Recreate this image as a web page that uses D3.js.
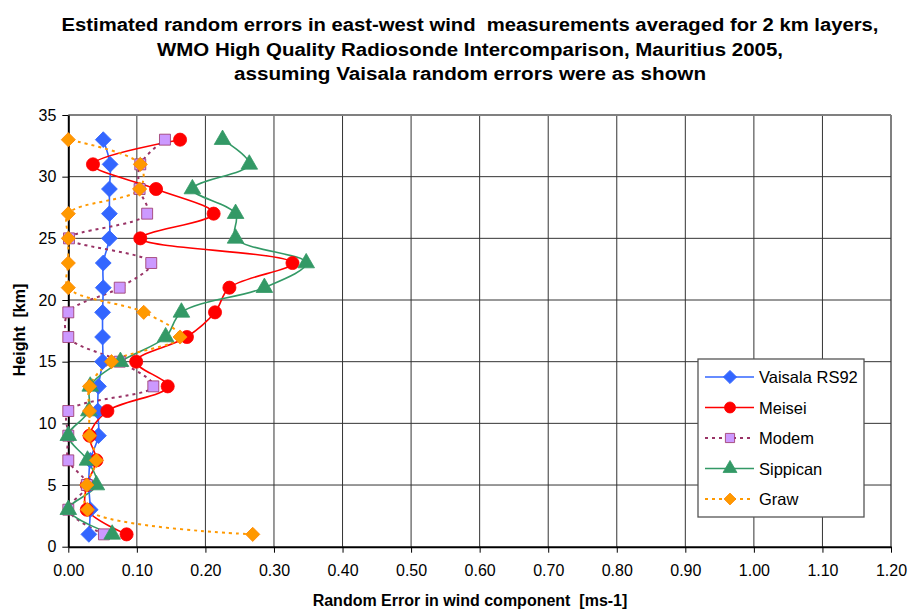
<!DOCTYPE html>
<html>
<head>
<meta charset="utf-8">
<script src="https://cdn.jsdelivr.net/npm/d3@7"></script>
<style>
  body { margin: 0; background: #fff; }
  text { font-family: "Liberation Sans", Arial, sans-serif; white-space: pre; }
</style>
</head>
<body>
<div id="chart"></div>
<script>
const WIDTH = 911;
const HEIGHT = 610;

// heights of 2 km layers (km)
const heights = [1, 3, 5, 7, 9, 11, 13, 15, 17, 19, 21, 23, 25, 27, 29, 31, 33];

const vaisala  = [0.030, 0.032, 0.030, 0.032, 0.044, 0.043, 0.044, 0.050, 0.050, 0.050, 0.051, 0.051, 0.060, 0.060, 0.060, 0.061, 0.051];
const meisei   = [0.085, 0.027, 0.027, 0.041, 0.031, 0.057, 0.145, 0.099, 0.173, 0.214, 0.235, 0.327, 0.105, 0.212, 0.128, 0.036, 0.163];
const modem    = [0.052, 0.000, 0.027, 0.000, 0.000, 0.000, 0.124, 0.075, 0.000, 0.000, 0.075, 0.121, 0.001, 0.115, 0.104, 0.105, 0.141];
const sippican = [0.064, 0.000, 0.041, 0.028, 0.000, 0.030, 0.032, 0.076, 0.142, 0.165, 0.286, 0.347, 0.244, 0.244, 0.181, 0.264, 0.225];
const graw     = [0.269, 0.028, 0.027, 0.041, 0.031, 0.031, 0.031, 0.063, 0.163, 0.110, 0.000, 0.000, 0.000, 0.000, 0.104, 0.105, 0.000];

const seriesNames = ["Vaisala RS92", "Meisei", "Modem", "Sippican", "Graw"];
const xTicks = d3.range(0, 1.2001, 0.1);
const yTicks = d3.range(0, 36, 5);

const titleLines = [
    "Estimated random errors in east-west wind  measurements averaged for 2 km layers,",
    "WMO High Quality Radiosonde Intercomparison, Mauritius 2005,",
    "assuming Vaisala random errors were as shown"
];
const titleWidths = [817, 626, 472];

const series = [
    {name: seriesNames[0], values: vaisala,  color: "#3366ff", fill: "#3366ff", stroke: "#3366ff", symbol: d3.symbolSquare, rot: 45, size: 125, dash: null},
    {name: seriesNames[1], values: meisei,   color: "#ff0000", fill: "#ff0000", stroke: "#ff0000", symbol: d3.symbolCircle, rot: 0, size: 135, dash: null},
    {name: seriesNames[2], values: modem,    color: "#993366", fill: "#cc99ff", stroke: "#993366", symbol: d3.symbolSquare, rot: 0, size: 120, dash: "3,4"},
    {name: seriesNames[3], values: sippican, color: "#339966", fill: "#339966", stroke: "#339966", symbol: d3.symbolTriangle, rot: 0, size: 120, dash: null},
    {name: seriesNames[4], values: graw,     color: "#ff9900", fill: "#ff9900", stroke: "#ff8800", symbol: d3.symbolSquare, rot: 45, size: 100, dash: "3,4"}
];

const margin = {left: 68.3, right: 20, top: 115, bottom: 63.3};

let svg = d3.select("#chart")
    .append("svg")
    .attr("width", WIDTH)
    .attr("height", HEIGHT);

let x = d3.scaleLinear().domain([0, 1.2]).range([margin.left, WIDTH - margin.right]);
let y = d3.scaleLinear().domain([0, 35]).range([HEIGHT - margin.bottom, margin.top]);

// title
svg.append("g")
    .selectAll("text")
    .data(titleLines)
    .enter()
    .append("text")
    .attr("x", 470)
    .attr("y", (d, i) => 31 + i * 24.5)
    .attr("text-anchor", "middle")
    .attr("textLength", (d, i) => titleWidths[i])
    .attr("lengthAdjust", "spacingAndGlyphs")
    .style("font-size", "18px")
    .style("font-weight", "bold")
    .text(d => d);

// grid
svg.append("g")
    .selectAll("line")
    .data(xTicks.slice(1))
    .enter()
    .append("line")
    .attr("x1", d => x(d)).attr("x2", d => x(d))
    .attr("y1", y(0)).attr("y2", y(35))
    .style("stroke", (d, i) => i === xTicks.length - 2 ? "#808080" : "#333")
    .style("stroke-width", (d, i) => i === xTicks.length - 2 ? 2 : 1);

svg.append("g")
    .selectAll("line")
    .data(yTicks.slice(1))
    .enter()
    .append("line")
    .attr("x1", x(0)).attr("x2", x(1.2))
    .attr("y1", d => y(d)).attr("y2", d => y(d))
    .style("stroke", (d, i) => i === yTicks.length - 2 ? "#808080" : "#333")
    .style("stroke-width", (d, i) => i === yTicks.length - 2 ? 2 : 1);

// axes
let xAxis = svg.append("g")
    .attr("transform", `translate(0,${y(0)})`)
    .call(d3.axisBottom(x).tickValues(xTicks).tickFormat(d3.format(".2f")).tickSize(6).tickSizeOuter(0).tickPadding(12));
let yAxis = svg.append("g")
    .attr("transform", `translate(${x(0)},0)`)
    .call(d3.axisLeft(y).tickValues(yTicks).tickSize(6).tickSizeOuter(0).tickPadding(6));

[xAxis, yAxis].forEach(a => {
    a.select(".domain").style("stroke", "#000").style("stroke-width", 2);
    a.selectAll(".tick line").style("stroke", "#000");
    a.selectAll("text")
        .style("font-size", "16px")
        .style("font-family", "'Liberation Sans', Arial, sans-serif")
        .style("fill", "#000");
});

// axis titles
svg.append("text")
    .attr("x", 470)
    .attr("y", 606)
    .attr("text-anchor", "middle")
    .style("font-size", "16px")
    .style("font-weight", "bold")
    .text("Random Error in wind component  [ms-1]");

svg.append("text")
    .attr("transform", "translate(25,330) rotate(-90)")
    .attr("text-anchor", "middle")
    .style("font-size", "16px")
    .style("font-weight", "bold")
    .text("Height  [km]");

// series
let line = d3.line()
    .x(d => x(d[0]))
    .y(d => y(d[1]))
    .curve(d3.curveCatmullRom.alpha(0.5));

let plot = svg.append("g");

series.forEach(s => {
    let pts = s.values.map((v, i) => [v, heights[i]]);
    plot.append("path")
        .datum(pts)
        .attr("d", line)
        .style("fill", "none")
        .style("stroke", s.color)
        .style("stroke-width", s.dash ? 2 : 1.6)
        .style("stroke-dasharray", s.dash);
});

series.forEach(s => {
    let pts = s.values.map((v, i) => [v, heights[i]]);
    plot.selectAll(null)
        .data(pts)
        .enter()
        .append("path")
        .attr("d", d3.symbol().type(s.symbol).size(s.size))
        .attr("transform", d => `translate(${x(d[0])},${y(d[1])}) rotate(${s.rot})`)
        .style("fill", s.fill)
        .style("stroke", s.stroke)
        .style("stroke-width", 0.8);
});

// legend
let legend = svg.append("g").attr("transform", "translate(698,359)");
legend.append("rect")
    .attr("width", 166)
    .attr("height", 158)
    .style("fill", "#fff")
    .style("stroke", "#555")
    .style("stroke-width", 1.3);

let entry = legend.selectAll(".entry")
    .data(series)
    .enter()
    .append("g")
    .attr("class", "entry")
    .attr("transform", (d, i) => `translate(0,${18 + i * 30.5})`);

entry.append("line")
    .attr("x1", 7).attr("x2", 56)
    .style("stroke", d => d.color)
    .style("stroke-width", d => d.dash ? 2 : 1.6)
    .style("stroke-dasharray", d => d.dash);

entry.append("path")
    .attr("d", d => d3.symbol().type(d.symbol).size(d.size * 0.7)())
    .attr("transform", d => `translate(32,0) rotate(${d.rot})`)
    .style("fill", d => d.fill)
    .style("stroke", d => d.stroke)
    .style("stroke-width", 0.8);

entry.append("text")
    .attr("x", 61)
    .attr("y", 6)
    .style("font-size", "16.5px")
    .text(d => d.name);
</script>
</body>
</html>
